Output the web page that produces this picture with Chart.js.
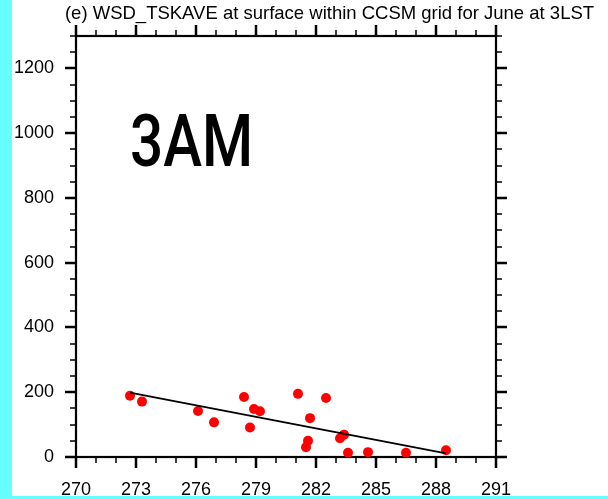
<!DOCTYPE html>
<html>
<head>
<meta charset="utf-8">
<script src="https://cdn.jsdelivr.net/npm/chart.js@4.4.1/dist/chart.umd.min.js"></script>
<style>
  html, body { margin: 0; padding: 0; background: #fff; overflow: hidden; }
  #wrap { width: 608px; height: 499px; }
</style>
</head>
<body>
<div id="wrap"><canvas id="chart" width="608" height="499"></canvas></div>
<script>
// =============== Data ===============
const tempK = [272.7, 273.3, 276.1, 276.9, 278.4, 278.7, 278.9, 279.2, 281.1, 281.7,
               281.6, 281.5, 282.5, 283.2, 283.4, 283.6, 284.6, 286.5, 288.5];
const wsdVals = [189, 171, 142, 107, 185, 91, 148, 141, 195, 120,
                 50, 30, 182, 58, 69, 13, 15, 13, 21];
const fitX = [272.7, 288.5];
const fitY = [199, 11];
const xTickVals = [270, 273, 276, 279, 282, 285, 288, 291];
const yTickVals = [0, 200, 400, 600, 800, 1000, 1200];
const titleText = '(e) WSD_TSKAVE at surface within CCSM grid for June at 3LST';
const panelText = '3AM';

// =============== Helpers ===============
const FONT = '"Liberation Sans", Arial, Helvetica, sans-serif';

// Rahmen + Ticks an allen vier Seiten (nach aussen)
const framePlugin = {
  id: 'frame',
  beforeDatasetsDraw(chart) {
    const { ctx, chartArea: a, scales } = chart;
    const xs = scales.x, ys = scales.y;
    ctx.save();
    ctx.strokeStyle = '#000';
    ctx.lineCap = 'butt';

    // x ticks (unten + oben)
    for (let v = 270; v <= 291; v++) {
      const major = (v - 270) % 3 === 0;
      const len = major ? 11 : 6;
      const px = Math.round(xs.getPixelForValue(v));
      ctx.lineWidth = major ? 2.5 : 1.5;
      ctx.beginPath();
      ctx.moveTo(px, a.bottom); ctx.lineTo(px, a.bottom + len);
      ctx.moveTo(px, a.top); ctx.lineTo(px, a.top - len);
      ctx.stroke();
    }
    // y ticks (links + rechts)
    for (let v = 0; v <= 1300; v += 50) {
      const major = v % 200 === 0;
      const len = major ? 11 : 6;
      const py = Math.round(ys.getPixelForValue(v));
      ctx.lineWidth = major ? 2.5 : 1.5;
      ctx.beginPath();
      ctx.moveTo(a.left, py); ctx.lineTo(a.left - len, py);
      ctx.moveTo(a.right, py); ctx.lineTo(a.right + len, py);
      ctx.stroke();
    }
    // Rahmen
    ctx.lineWidth = 2.2;
    ctx.strokeRect(a.left, a.top, a.right - a.left, a.bottom - a.top);
    ctx.restore();
  },
  afterDraw(chart) {
    const { ctx } = chart;
    ctx.save();
    // Titel
    ctx.fillStyle = '#000';
    ctx.font = '18.5px ' + FONT;
    ctx.textAlign = 'center';
    ctx.textBaseline = 'alphabetic';
    ctx.fillText(titleText, 329.5, 19);
    // Panel-Beschriftung (schmal gestaucht)
    ctx.font = '500 72px Roboto, ' + FONT;
    ctx.textAlign = 'left';
    const w = ctx.measureText(panelText).width;
    ctx.translate(130, 166);
    ctx.scale(123 / w, 1);
    ctx.fillText(panelText, 0, 0);
    ctx.setTransform(1, 0, 0, 1, 0, 0);
    // Cyan Rand
    ctx.fillStyle = '#66ffff';
    ctx.fillRect(0, 0, 12, 499);
    ctx.fillRect(0, 496, 608, 3);
    ctx.restore();
  }
};

// =============== Chart ===============
function drawChart() {
  const ctx = document.getElementById('chart').getContext('2d');
  const points = tempK.map((x, i) => ({ x, y: wsdVals[i] }));
  const fitLine = fitX.map((x, i) => ({ x, y: fitY[i] }));

  new Chart(ctx, {
    type: 'scatter',
    data: {
      datasets: [
        {
          data: points,
          backgroundColor: '#ff0000',
          borderWidth: 0,
          pointRadius: 5,
          order: 1,
        },
        {
          type: 'line',
          data: fitLine,
          borderColor: '#000',
          borderWidth: 1.8,
          pointRadius: 0,
          fill: false,
          order: 0,
        },
      ],
    },
    options: {
      responsive: false,
      animation: false,
      devicePixelRatio: 1,
      layout: { padding: { left: 0, right: 112, top: 36, bottom: 0 } },
      plugins: {
        legend: { display: false },
        tooltip: { enabled: false },
        title: { display: false },
      },
      scales: {
        x: {
          type: 'linear',
          min: 270,
          max: 291,
          grid: { display: false, drawTicks: false, tickLength: 0 },
          border: { display: false },
          afterBuildTicks: (s) => { s.ticks = xTickVals.map((v) => ({ value: v })); },
          afterFit: (s) => { s.height = 42; },
          ticks: {
            color: '#000',
            padding: 22,
            maxRotation: 0,
            autoSkip: false,
            font: { family: FONT, size: 18 },
            callback: (v) => String(v),
          },
        },
        y: {
          type: 'linear',
          min: 0,
          max: 1300,
          grid: { display: false, drawTicks: false, tickLength: 0 },
          border: { display: false },
          afterBuildTicks: (s) => { s.ticks = yTickVals.map((v) => ({ value: v })); },
          afterFit: (s) => { s.width = 76; },
          ticks: {
            color: '#000',
            padding: 22,
            autoSkip: false,
            font: { family: FONT, size: 18 },
            callback: (v) => String(v),
          },
        },
      },
    },
    plugins: [framePlugin],
  });
}

document.addEventListener('DOMContentLoaded', drawChart);
</script>
</body>
</html>
